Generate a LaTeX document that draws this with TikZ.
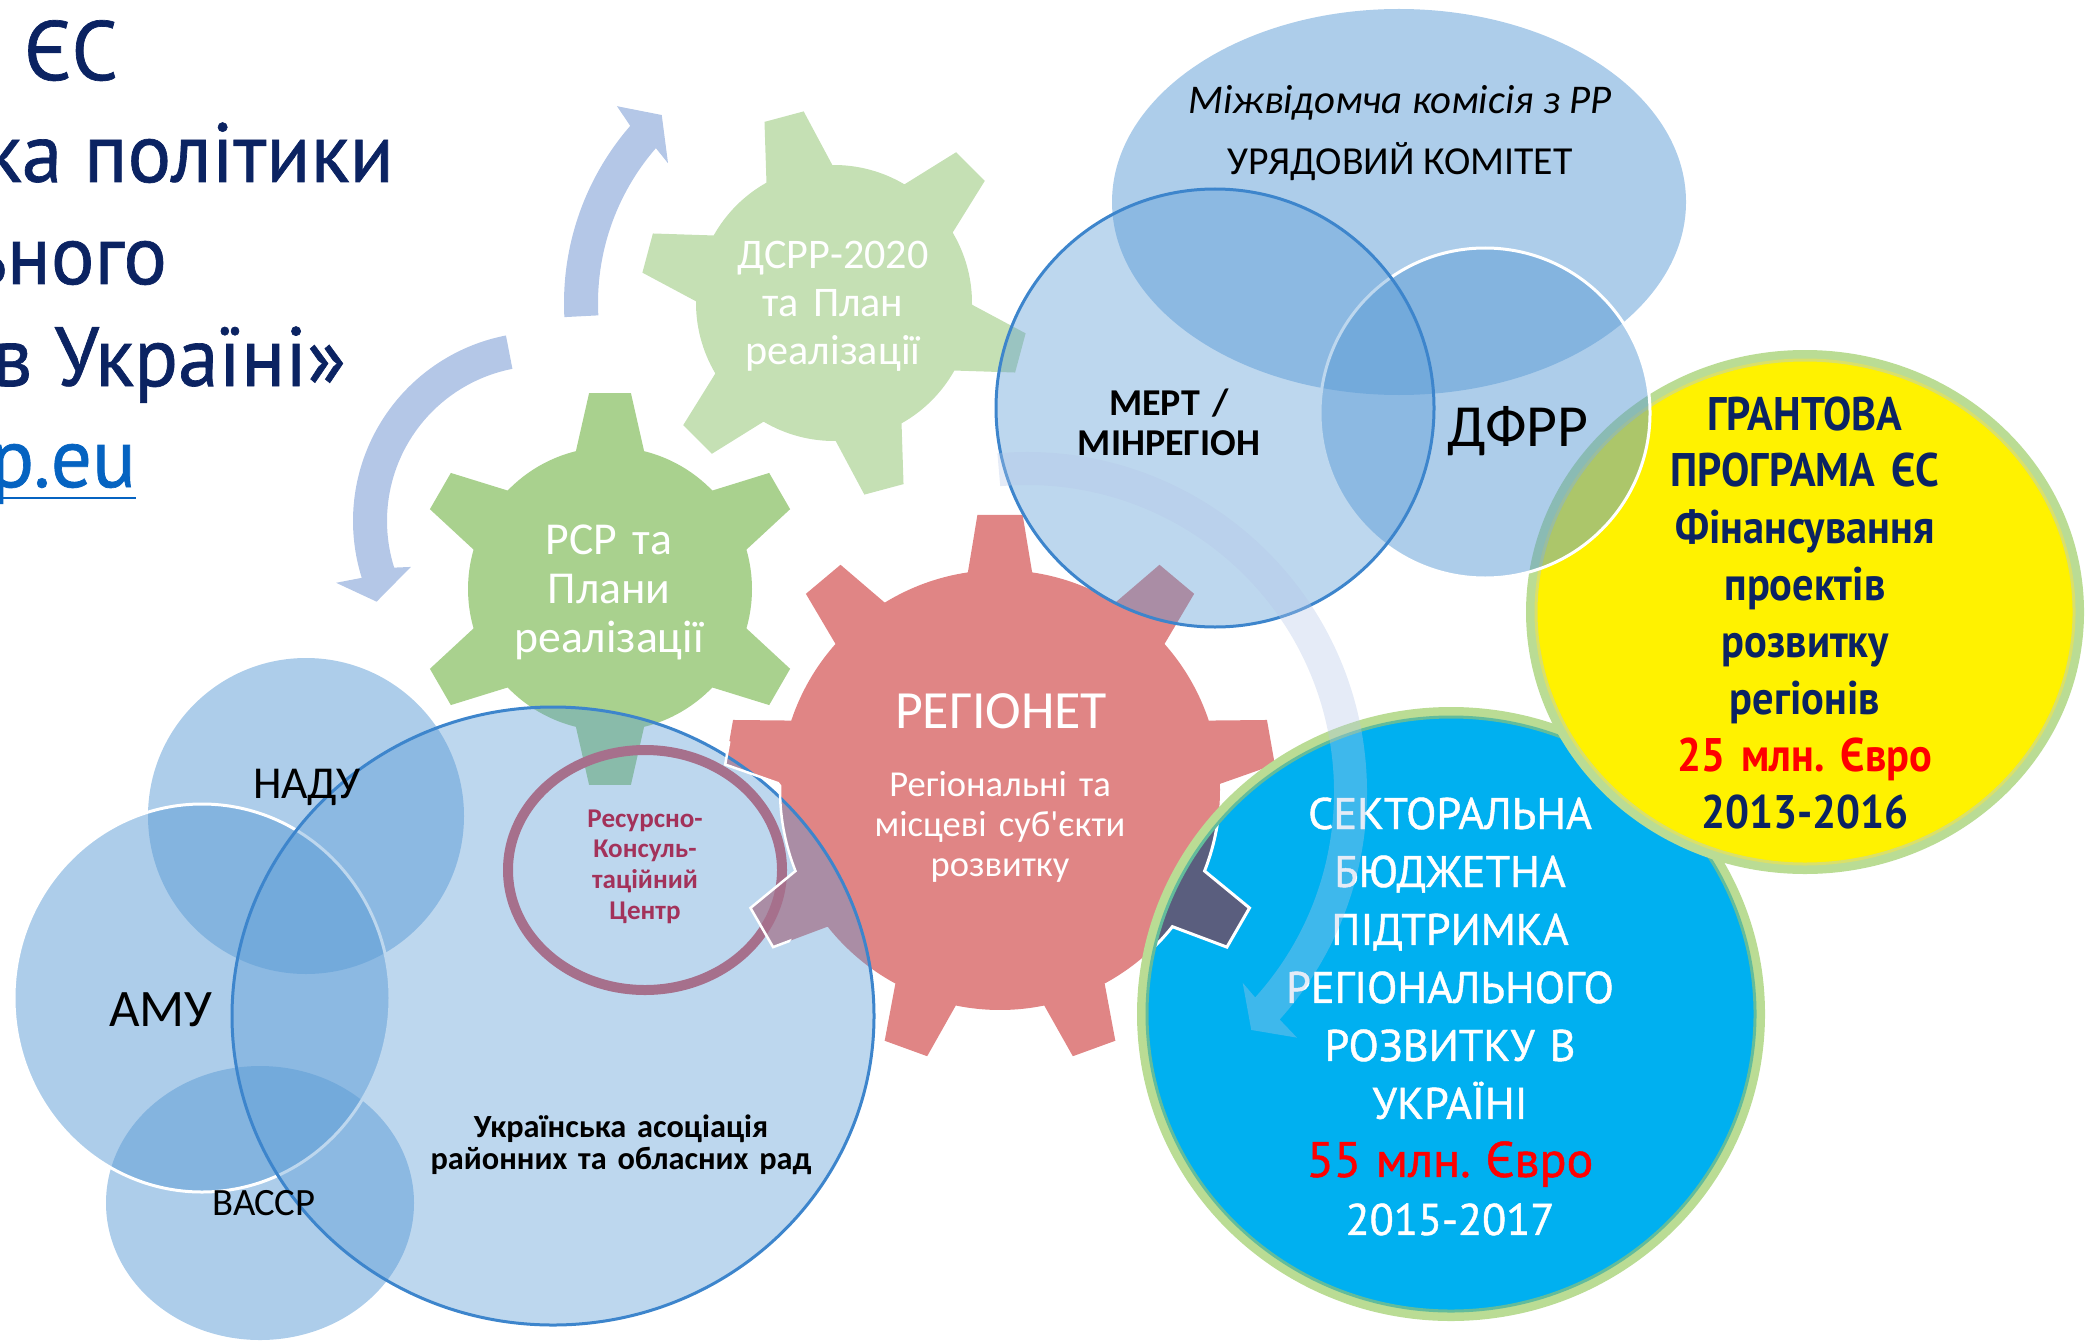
\documentclass[tikz,border=0pt]{standalone}
\usepackage{fontspec}
\setmainfont{Carlito}
\newfontfamily\plainap[Ligatures=TeXOff]{Carlito}
\newfontfamily\ecf[FakeStretch=0.9]{PT Sans}
\newfontfamily\ect[FakeStretch=0.97,FakeBold=0.8]{PT Sans}
\newfontfamily\ecs[FakeBold=1.0]{PT Sans}
\usetikzlibrary{calc}
\definecolor{navy}{HTML}{0B2362}
\definecolor{linkblue}{HTML}{0563C1}
\definecolor{gearA}{HTML}{C5E0B4}
\definecolor{gearB}{HTML}{A9D18E}
\definecolor{gearC}{HTML}{E08585}
\definecolor{arrowblue}{HTML}{B4C7E7}
\definecolor{vennblue}{HTML}{5B9BD5}
\definecolor{strokeblue}{HTML}{3D85CC}
\definecolor{cyanfill}{HTML}{00B0F0}
\definecolor{darkgear}{HTML}{5A5E7E}
\definecolor{ringcol}{HTML}{A6708C}
\definecolor{rctext}{HTML}{A3325A}
\definecolor{rimgreen}{HTML}{BADC94}
\definecolor{rimteal}{HTML}{62BC9C}
\newcommand\fs[2]{\fontsize{#1pt}{#2pt}\selectfont}
\newcommand\apos{{\plainap '}}
\newcommand\gearpath[6]{%
  ({#2-#5}:#3)
  \foreach \k in {1,...,#1}{
    -- ({#2+(\k-1)*360/#1-#6}:#4) -- ({#2+(\k-1)*360/#1+#6}:#4)
    -- ({#2+(\k-1)*360/#1+#5}:#3)
    arc[start angle={#2+(\k-1)*360/#1+#5}, end angle={#2+\k*360/#1-#5}, radius=#3]
  } -- cycle}
\frenchspacing
\begin{document}
\begin{tikzpicture}[x=0.1mm,y=0.1mm,
  every node/.style={inner sep=0pt,outer sep=0pt},
  venn/.style={fill=vennblue,fill opacity=0.5},
  titletext/.style={anchor=base east,text=navy,font=\ect\fs{23.9}{28}},
  multi/.style={anchor=base,align=center,text width=80mm},
  arrowshape/.style={fill=arrowblue}]
\useasboundingbox (0,0) rectangle (2095,1340);
\clip (0,0) rectangle (2095,1340);

% gears
\fill[gearA, shift={(834,1037)}] \gearpath{6}{-15}{138}{194}{14.3}{6};
\fill[gearB, shift={(610,751)}] \gearpath{6}{90}{142}{197}{13.9}{6.1};
\fill[gearC, shift={(1000,550)}] \gearpath{9}{90}{220}{276}{8.4}{4.7};

% circular arrows
\fill[arrowshape, shift={(542,819)}] (101:189) arc[start angle=101,end angle=197.5,radius=189]
  -- (196.7:215) -- (206:184) -- (199.3:139) -- (197.5:155)
  arc[start angle=197.5,end angle=101,radius=155] -- cycle;
\fill[arrowshape, shift={(834,1037)}] (183:270) arc[start angle=183,end angle=139,radius=270]
  -- (137.8:293) -- (132.5:255) -- (139.9:217) -- (139:236)
  arc[start angle=139,end angle=183,radius=236] -- cycle;

% sectoral budget circle
\fill[cyanfill] (1451,326) ellipse[x radius=309,y radius=302];
\begin{scope}
  \clip (1451,326) ellipse[x radius=309,y radius=302];
  \fill[darkgear, shift={(1000,550)}] \gearpath{9}{90}{220}{276}{8.4}{4.7};
  \draw[white, line width=0.3mm, shift={(1000,550)}] \gearpath{9}{90}{220}{276}{8.4}{4.7};
\end{scope}
\draw[rimgreen, line width=1mm] (1451,326) ellipse[x radius=309,y radius=302];
\draw[rimteal, line width=0.3mm] (1451,326) ellipse[x radius=304,y radius=297];

% grant circle
\fill[yellow] (1805,728) ellipse[x radius=274,y radius=257];
\draw[rimgreen, line width=1mm] (1805,728) ellipse[x radius=274,y radius=257];
\draw[yellow!40!rimgreen, line width=0.3mm] (1805,728) ellipse[x radius=269,y radius=252];

% venn circles, top right
\fill[venn] (1399,1138) ellipse[x radius=287,y radius=193];
\filldraw[venn, draw=white, line width=0.3mm] (1485,927) circle[radius=165];
\filldraw[venn, fill opacity=0.4, draw=strokeblue, line width=0.3mm] (1215,932) circle[radius=219];

% venn circles, bottom left
\fill[venn] (306,524) circle[radius=158];
\fill[venn] (260,137) ellipse[x radius=154,y radius=137];
\filldraw[venn, draw=white, line width=0.3mm] (202,342) ellipse[x radius=188,y radius=194];
\filldraw[venn, fill opacity=0.4, draw=strokeblue, line width=0.3mm] (553,324) ellipse[x radius=321,y radius=309];

% resource centre ring
\draw[ringcol, line width=1mm] (645,470) ellipse[x radius=137,y radius=120];
\begin{scope}
  \clip (645,470) ellipse[x radius=165,y radius=150];
  \draw[white, line width=0.25mm, shift={(1000,550)}] \gearpath{9}{90}{220}{276}{8.4}{4.7};
\end{scope}

% title fragments
\node[titletext] (t1) at (118,1260) {ЄС};
\node[titletext] (t2) at (394,1158) {ка політики};
\node[titletext] (t3) at (167,1056) {ьного};
\node[titletext] (t4) at (346,954) {в Україні»};
\node[titletext, text=linkblue] (t5) at (136,853) {p.eu};
\draw[linkblue, line width=0.25mm] (0,842) -- (136,842);

% labels
\node[anchor=base, font=\itshape\fs{11.6}{14}] (mk) at (1400,1226) {Міжвідомча комісія з РР};
\node[anchor=base, font=\fs{11.3}{13}] (uk) at (1400,1165) {УРЯДОВИЙ КОМІТЕТ};
\node[multi, font=\bfseries\fs{10.8}{11.4}] (mert) at (1169,925) {МЕРТ /\\МІНРЕГІОН};
\node[anchor=base, font=\fs{17}{19}] (dfrr) at (1518,894) {ДФРР};
\node[multi, text=white, font=\fs{12}{13.7}] (dsrr) at (833,1072) {ДСРР-2020\\та План\\реалізації};
\node[multi, text=white, font=\fs{13}{14}] (rsr) at (609,786) {РСР та\\Плани\\реалізації};
\node[anchor=base, text=white, font=\fs{15.3}{17}] (regionet) at (1001,612) {РЕГІОНЕТ};
\node[multi, text=white, font=\fs{10.4}{11.4}] (subj) at (1000,544) {Регіональні та\\місцеві суб\apos єкти\\розвитку};
\node[anchor=base, font=\fs{13}{15}] (nadu) at (307,542) {НАДУ};
\node[anchor=base, font=\fs{15}{17}] (amu) at (161,314) {АМУ};
\node[anchor=base, font=\fs{11}{13}] (vassr) at (264,125) {ВАССР};
\node[multi, font=\bfseries\fs{9.2}{9.2}] (uarr) at (621,203) {Українська асоціація\\районних та обласних рад};
\node[multi, text=rctext, font=\bfseries\fs{7.7}{8.8}] (rkc) at (645,513) {Ресурсно-\\Консуль-\\таційний\\Центр};
\node[multi, text=navy, font=\ecf\bfseries\fs{13.4}{16.2}] (grant) at (1805,910)
  {ГРАНТОВА\\ПРОГРАМА ЄС\\Фінансування\\проектів\\розвитку\\регіонів\\{\color{red}25 млн. Євро}\\2013-2016};
\node[multi, text=white, font=\ecs\fs{12.6}{16.5}] (sbs) at (1450,511)
  {СЕКТОРАЛЬНА\\БЮДЖЕТНА\\ПІДТРИМКА\\РЕГІОНАЛЬНОГО\\РОЗВИТКУ В\\УКРАЇНІ\\{\color{red}\fs{14.2}{16.5}55 млн. Євро}\\2015-2017};

% large faint circular arrow
\fill[arrowshape, fill opacity=0.35, shift={(1027,548)}] (95:340) arc[start angle=95,end angle=-42,radius=340]
  -- (-42.3:365) -- (-46.7:327) -- (-41.5:288) -- (-42:307)
  arc[start angle=-42,end angle=95,radius=307] -- cycle;
\end{tikzpicture}
\end{document}
